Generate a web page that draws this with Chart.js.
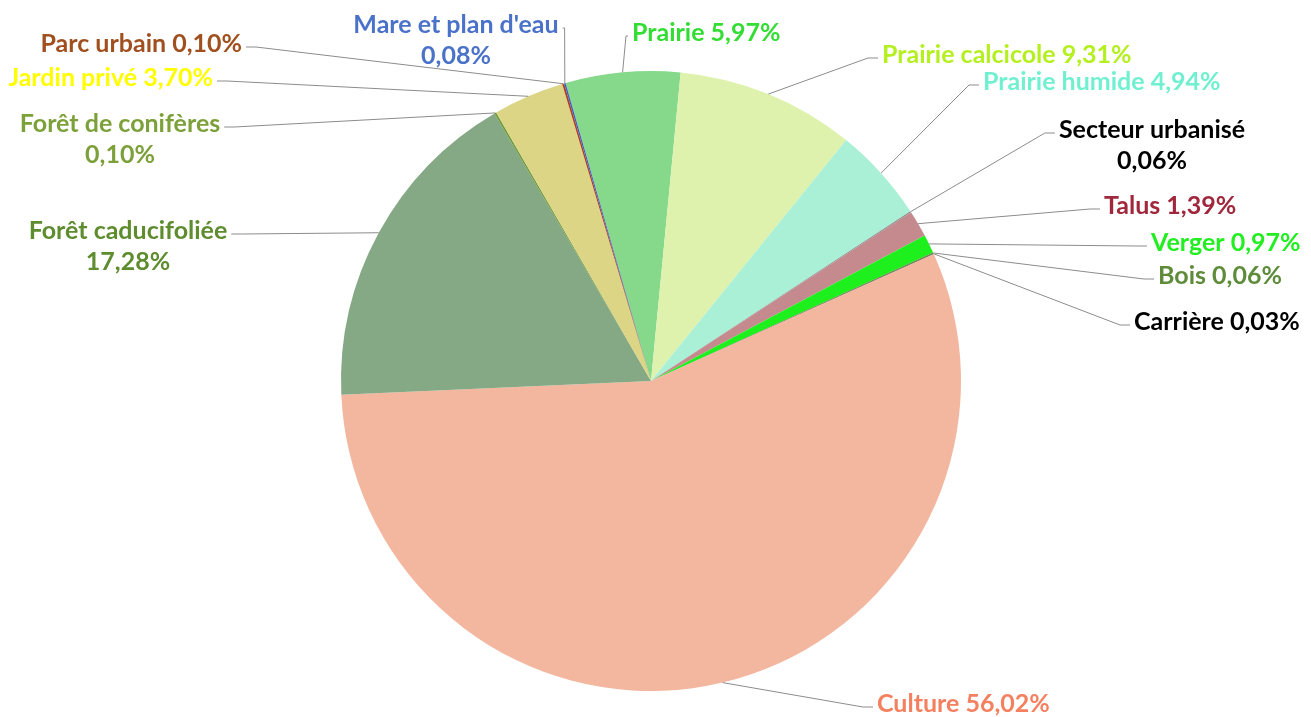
<!DOCTYPE html>
<html>
<head>
<meta charset="utf-8">
<script src="https://cdn.jsdelivr.net/npm/chart.js@4.4.1/dist/chart.umd.min.js"></script>
<style>
  html, body { margin: 0; padding: 0; background: #fff; }
  #wrap { width: 1311px; height: 717px; position: relative; }
</style>
</head>
<body>
<div id="wrap"><canvas id="pie"></canvas></div>
<script>
// Land-cover shares (%), clockwise from the top
const labels = [
  'Prairie', 'Prairie calcicole', 'Prairie humide', 'Secteur urbanisé',
  'Talus', 'Verger', 'Bois', 'Carrière', 'Culture', 'Forêt caducifoliée',
  'Forêt de conifères', 'Jardin privé', 'Parc urbain', 'Mare et plan d\'eau'
];
const values = [5.97, 9.31, 4.94, 0.06, 1.39, 0.97, 0.06, 0.03, 56.02, 17.28, 0.10, 3.70, 0.10, 0.08];
const valueText = ['5,97%', '9,31%', '4,94%', '0,06%', '1,39%', '0,97%', '0,06%', '0,03%',
  '56,02%', '17,28%', '0,10%', '3,70%', '0,10%', '0,08%'];

const sliceColors = ['#86d98a', '#def2ae', '#a9f0d6', '#8a8a8a', '#c48a8e', '#1ef01e', '#5e8c3a',
  '#333333', '#f3b7a0', '#86a985', '#6f9a3a', '#dcd585', '#b0401a', '#4060c0'];
const textColors = ['#33dd33', '#b4f020', '#70f0d0', '#000000', '#a0283c', '#22ee22', '#5e8c3a',
  '#000000', '#f58060', '#5e8c2e', '#7ca03a', '#ffff00', '#a0501e', '#4a72c8'];

// label placement: x, y of first line, which side the leader meets the text
const labelPos = [
  { x: 632, y: 33, side: 'top-left' },
  { x: 882, y: 55, side: 'left' },
  { x: 983, y: 82, side: 'left' },
  { x: 1152, y: 130, side: 'left', split: true },
  { x: 1104, y: 206, side: 'left' },
  { x: 1151, y: 243, side: 'left' },
  { x: 1158, y: 276, side: 'left' },
  { x: 1134, y: 322, side: 'left' },
  { x: 877, y: 704, side: 'left' },
  { x: 128, y: 231, side: 'right', split: true },
  { x: 120, y: 124, side: 'right', split: true },
  { x: 213, y: 78, side: 'right' },
  { x: 242, y: 44, side: 'right' },
  { x: 456, y: 25, side: 'top-right', split: true }
];

const FONT = 'bold 25px Lato, "Open Sans", sans-serif';

const leaderPlugin = {
  id: 'leaders',
  afterDatasetsDraw(chart) {
    const ctx = chart.ctx;
    const arcs = chart.getDatasetMeta(0).data;
    ctx.save();
    ctx.font = FONT;
    ctx.textBaseline = 'middle';
    arcs.forEach((arc, i) => {
      const p = labelPos[i];
      const mid = (arc.startAngle + arc.endAngle) / 2;
      const ax = arc.x + Math.cos(mid) * arc.outerRadius;
      const ay = arc.y + Math.sin(mid) * arc.outerRadius;
      const toRight = p.side.indexOf('right') >= 0;

      // text
      ctx.fillStyle = textColors[i];
      let ex;
      if (p.split) {
        ctx.textAlign = 'center';
        ctx.fillText(labels[i], p.x, p.y);
        ctx.fillText(valueText[i], p.x, p.y + 31);
        const half = ctx.measureText(labels[i]).width / 2;
        ex = toRight ? p.x + half + 4 : p.x - half - 4;
      } else {
        ctx.textAlign = toRight ? 'right' : 'left';
        ctx.fillText(labels[i] + ' ' + valueText[i], p.x, p.y);
        ex = toRight ? p.x + 4 : p.x - 4;
      }
      const ey = p.y + 3;

      // leader line with a short elbow near the text
      ctx.strokeStyle = '#8c8c8c';
      ctx.lineWidth = 1;
      ctx.beginPath();
      ctx.moveTo(ax, ay);
      const elbow = p.side.indexOf('top') === 0 ? 2 : 10;
      ctx.lineTo(toRight ? ex + elbow : ex - elbow, ey);
      ctx.lineTo(ex, ey);
      ctx.stroke();
    });
    ctx.restore();
  }
};

new Chart(document.getElementById('pie'), {
  type: 'pie',
  data: {
    labels,
    datasets: [{
      data: values,
      backgroundColor: sliceColors,
      borderWidth: 0,
    }],
  },
  options: {
    responsive: true,
    maintainAspectRatio: false,
    animation: false,
    rotation: -16,
    layout: { padding: { top: 71, bottom: 26, left: 0, right: 9 } },
    plugins: { legend: { display: false }, tooltip: { enabled: false } },
  },
  plugins: [leaderPlugin],
});
</script>
</body>
</html>
